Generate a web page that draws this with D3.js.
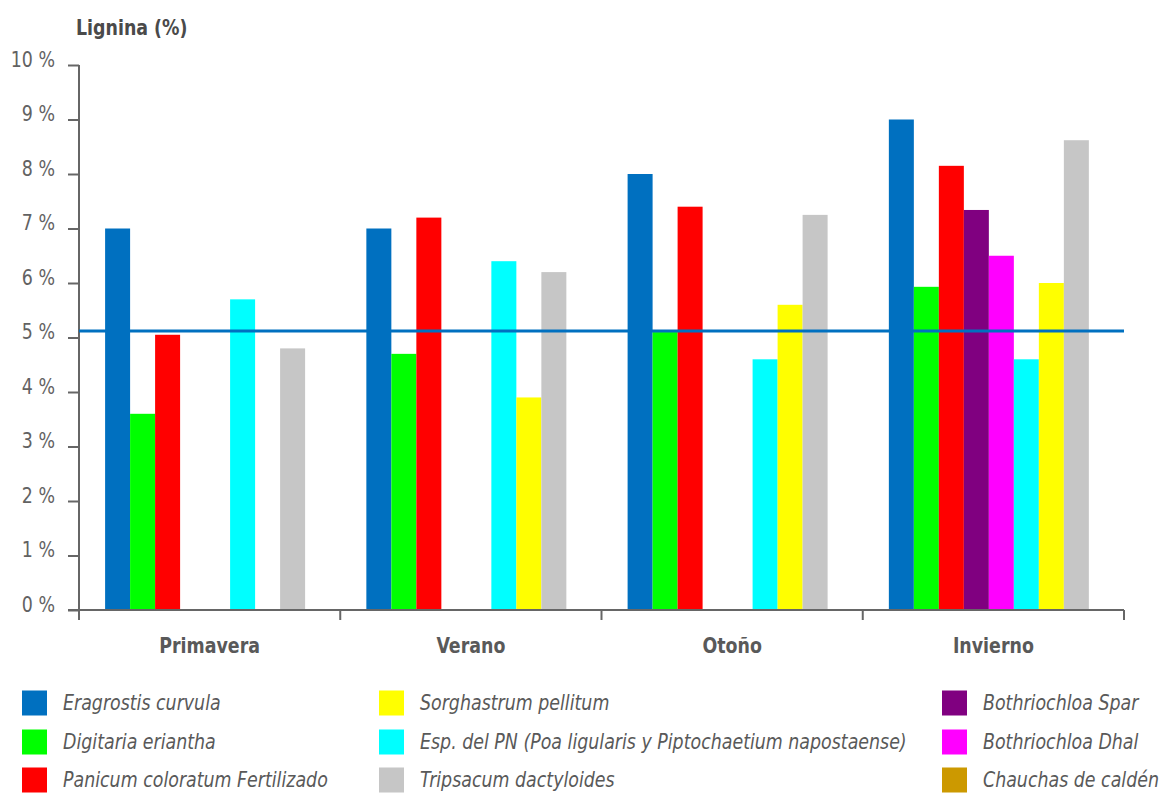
<!DOCTYPE html>
<html>
<head>
<meta charset="utf-8">
<script src="https://cdn.jsdelivr.net/npm/d3@7"></script>
<style>
  html, body { margin: 0; padding: 0; background: #fff; }
  svg { display: block; }
  text { font-family: "DejaVu Sans Condensed", "Liberation Sans Narrow", "Roboto", sans-serif; }
</style>
</head>
<body>
<svg id="chart" width="1164" height="794"></svg>
<script>
// Seasons on the x axis
const estaciones = ["Primavera", "Verano", "Otoño", "Invierno"];

// Forage species (series), in bar order within each season
const especies = [
  "Eragrostis curvula",
  "Digitaria eriantha",
  "Panicum coloratum Fertilizado",
  "Bothriochloa Spar",
  "Bothriochloa Dhal",
  "Esp. del PN (Poa ligularis y Piptochaetium napostaense)",
  "Sorghastrum pellitum",
  "Tripsacum dactyloides",
  "Chauchas de caldén"
];

// Lignin content (%) per species, one value per season (null = no data)
const eragrostisCurvula   = [7.0, 7.0, 8.0, 9.0];
const digitariaEriantha   = [3.6, 4.7, 5.1, 5.93];
const panicumFertilizado  = [5.05, 7.2, 7.4, 8.15];
const bothriochloaSpar    = [null, null, null, 7.34];
const bothriochloaDhal    = [null, null, null, 6.5];
const especiesPN          = [5.7, 6.4, 4.6, 4.6];
const sorghastrumPellitum = [null, 3.9, 5.6, 6.0];
const tripsacumDactyl     = [4.8, 6.2, 7.25, 8.62];
const chauchasCalden      = [null, null, null, null];

// Reference level drawn across the chart
const nivelReferencia = 5.12;

// Y tick values and labels
const yTicks = [0, 1, 2, 3, 4, 5, 6, 7, 8, 9, 10];
const yTickLabels = ["0 %", "1 %", "2 %", "3 %", "4 %", "5 %", "6 %", "7 %", "8 %", "9 %", "10 %"];

// Legend reading order (column by column)
const ordenLeyenda = [
  "Eragrostis curvula",
  "Digitaria eriantha",
  "Panicum coloratum Fertilizado",
  "Sorghastrum pellitum",
  "Esp. del PN (Poa ligularis y Piptochaetium napostaense)",
  "Tripsacum dactyloides",
  "Bothriochloa Spar",
  "Bothriochloa Dhal",
  "Chauchas de caldén"
];

const valores = [
  eragrostisCurvula, digitariaEriantha, panicumFertilizado,
  bothriochloaSpar, bothriochloaDhal, especiesPN,
  sorghastrumPellitum, tripsacumDactyl, chauchasCalden
];

const colores = [
  "#0070C0", "#00FF00", "#FF0000", "#800080", "#FF00FF",
  "#00FFFF", "#FFFF00", "#C6C6C6", "#CC9900"
];
const color = d3.scaleOrdinal().domain(especies).range(colores);

const svg = d3.select("#chart");
const margin = { left: 79, right: 40, top: 65, bottom: 184 };
const W = 1164, H = 794;
const plotBottom = H - margin.bottom; // 610
const plotRight = W - margin.right;   // 1124

// Condensed look: text is narrowed horizontally around its anchor point
const SX = 0.88;
function condensed(sel) {
  sel.each(function () {
    const t = d3.select(this);
    const x = +t.attr("x") || 0;
    const yy = +t.attr("y") || 0;
    t.attr("x", 0).attr("y", 0)
     .attr("transform", `translate(${x},${yy}) scale(${SX},1)`);
  });
}

const x0 = d3.scaleBand().domain(estaciones).range([margin.left, plotRight]).padding(0);
const x1 = d3.scaleBand().domain(especies).range([0, x0.bandwidth()])
  .paddingInner(0).paddingOuter(0.725).align(0.72);
const y = d3.scaleLinear().domain([0, 10]).range([plotBottom, margin.top]);

const axisColor = "#666666";
const textColor = "#595959";

// Bars
const filas = [];
estaciones.forEach((est, i) => {
  especies.forEach((sp, j) => {
    const v = valores[j][i];
    if (v != null) filas.push({ est, sp, v });
  });
});

svg.append("g").selectAll("rect").data(filas).join("rect")
  .attr("x", d => x0(d.est) + x1(d.sp))
  .attr("y", d => y(d.v))
  .attr("width", x1.bandwidth())
  .attr("height", d => y(0) - y(d.v))
  .attr("fill", d => color(d.sp));

// Y axis
const yAxis = d3.axisLeft(y).tickValues(yTicks)
  .tickFormat((d, i) => yTickLabels[i]).tickSize(11).tickPadding(13);
const gy = svg.append("g").attr("transform", `translate(${margin.left},0)`).call(yAxis);
gy.select(".domain").attr("stroke", axisColor).attr("stroke-width", 2)
  .attr("d", `M0,${y(10)}V${plotBottom + 10}`);
gy.selectAll(".tick line").attr("stroke", axisColor).attr("stroke-width", 2);
gy.selectAll(".tick text").attr("fill", "#626262").attr("font-size", 22).attr("dy", "0.05em")
  .call(condensed);

// X axis with ticks at category boundaries
const gx = svg.append("g").attr("transform", `translate(0,${plotBottom})`);
gx.append("path").attr("d", `M${margin.left - 11},0H${plotRight}`)
  .attr("stroke", axisColor).attr("stroke-width", 2).attr("fill", "none");
const limites = estaciones.slice(1).map(e => x0(e)).concat([plotRight]);
gx.selectAll("line.b").data(limites).join("line")
  .attr("x1", d => d).attr("x2", d => d).attr("y1", 0).attr("y2", 10)
  .attr("stroke", axisColor).attr("stroke-width", 2);
gx.selectAll("text").data(estaciones).join("text")
  .attr("x", d => x0(d) + x0.bandwidth() / 2)
  .attr("y", 43)
  .attr("text-anchor", "middle")
  .attr("fill", textColor)
  .attr("font-size", 22)
  .attr("font-weight", 600)
  .text(d => d)
  .call(condensed);

// Reference line
svg.append("line")
  .attr("x1", margin.left).attr("x2", plotRight)
  .attr("y1", y(nivelReferencia)).attr("y2", y(nivelReferencia))
  .attr("stroke", "#0070C0").attr("stroke-width", 3);

// Y axis title
svg.append("text")
  .attr("x", 76).attr("y", 35)
  .attr("fill", "#4a4a4a")
  .attr("font-size", 22)
  .attr("font-weight", 600)
  .text("Lignina (%)")
  .call(condensed);

// Legend: three columns, three rows
const legendCols = [22, 379, 942];
const legendRows = [703, 742, 780];
const leg = svg.append("g").selectAll("g").data(ordenLeyenda).join("g")
  .attr("transform", (d, i) => `translate(${legendCols[Math.floor(i / 3)]},${legendRows[i % 3]})`);
leg.append("rect").attr("x", 0).attr("y", -12.5).attr("width", 25).attr("height", 25)
  .attr("fill", d => color(d));
leg.append("text").attr("x", 41).attr("y", 7)
  .attr("fill", textColor).attr("font-size", 22).attr("font-style", "italic")
  .text(d => d)
  .call(condensed);
</script>
</body>
</html>
